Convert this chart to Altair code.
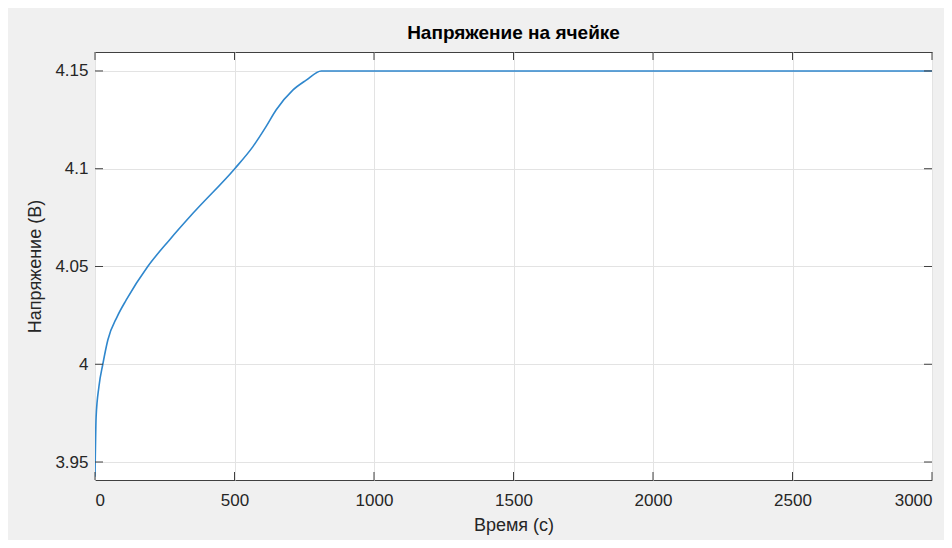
import altair as alt
import pandas as pd

# Data
time_s = [0, 4, 14, 28, 46, 80, 112, 189, 267, 351, 500, 566, 613, 649, 709, 757, 811, 1000, 1500, 2000, 2500, 3000]
voltage = [3.9425, 3.973, 3.9885, 4.0, 4.0124, 4.0245, 4.0329, 4.05, 4.0636, 4.0772, 4.0999, 4.1113, 4.1215, 4.13, 4.1402, 4.1453, 4.15, 4.15, 4.15, 4.15, 4.15, 4.15]

x_ticks = [0, 500, 1000, 1500, 2000, 2500, 3000]
y_ticks = [3.95, 4.0, 4.05, 4.1, 4.15]

title = "Напряжение на ячейке"
x_title = "Время (с)"
y_title = "Напряжение (В)"

W, H = 837, 428
X_DOM = [0, 3000]
Y_DOM = [3.9408, 4.1597]

df = pd.DataFrame({"t": time_s, "v": voltage})
dfx = pd.DataFrame({"t": x_ticks})
dfy = pd.DataFrame({"v": y_ticks})

xs = alt.Scale(domain=X_DOM, nice=False, zero=False)
ys = alt.Scale(domain=Y_DOM, nice=False, zero=False)

axis_common = dict(
    grid=True, gridColor="#e3e3e3", gridWidth=1,
    domain=False, ticks=False,
    labelColor="#262626", labelFont="Liberation Sans", labelFontSize=17,
    titleColor="#262626", titleFont="Liberation Sans", titleFontSize=18, titleFontWeight="normal",
)

line = alt.Chart(df).mark_line(color="#2f87cd", strokeWidth=1.6, clip=True, interpolate="monotone").encode(
    x=alt.X("t:Q", scale=xs,
            axis=alt.Axis(values=x_ticks, format="d", title=x_title, labelPadding=12, titlePadding=8, **axis_common)),
    y=alt.Y("v:Q", scale=ys,
            axis=alt.Axis(values=y_ticks, title=y_title, format="~g", labelPadding=7, titlePadding=10, **axis_common)),
)

tick_color = "#404040"
left_ticks = alt.Chart(dfy).mark_rule(color=tick_color, strokeWidth=1).encode(
    y=alt.Y("v:Q", scale=ys), x=alt.value(0), x2=alt.value(8))
right_ticks = alt.Chart(dfy).mark_rule(color=tick_color, strokeWidth=1).encode(
    y=alt.Y("v:Q", scale=ys), x=alt.value(W - 8), x2=alt.value(W))
bottom_ticks = alt.Chart(dfx).mark_rule(color=tick_color, strokeWidth=1).encode(
    x=alt.X("t:Q", scale=xs), y=alt.value(H - 8), y2=alt.value(H))
top_ticks = alt.Chart(dfx).mark_rule(color=tick_color, strokeWidth=1).encode(
    x=alt.X("t:Q", scale=xs), y=alt.value(0), y2=alt.value(8))

chart = alt.layer(line, left_ticks, right_ticks, bottom_ticks, top_ticks).properties(
    width=W, height=H,
    title=alt.TitleParams(title, font="Liberation Sans", fontSize=19, fontWeight="bold",
                          color="#000000", anchor="middle", offset=9),
    autosize=alt.AutoSizeParams(type="none"),
    padding={"left": 87, "top": 44, "right": 12, "bottom": 60},
).configure(background="#f0f0f0").configure_view(
    fill="white", stroke="#404040", strokeWidth=1
)

chart.save("out.html", embed_options={"renderer": "svg", "actions": False})
